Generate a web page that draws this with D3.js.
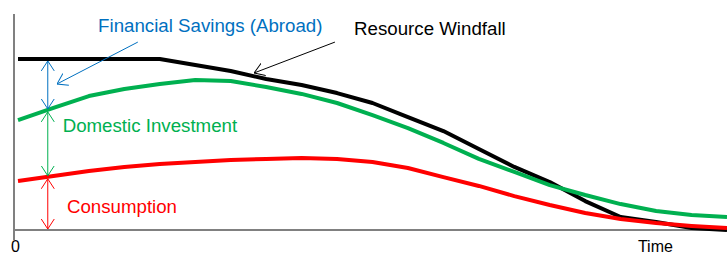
<!DOCTYPE html>
<html>
<head>
<meta charset="utf-8">
<script src="https://cdn.jsdelivr.net/npm/d3@7"></script>
<style>
  body { margin: 0; background: #fff; }
  svg { display: block; font-family: "Liberation Sans", Arial, sans-serif; }
</style>
</head>
<body>
<div id="chart"></div>
<script>
// data (time index 0..100, value in arbitrary units)
const time = [0, 5, 10, 15, 20, 25, 30, 35, 40, 45, 50, 55, 60, 65, 70, 75, 80, 85, 90, 95, 100];
const windfall = [79.2, 79.2, 79.2, 79.2, 79.2, 76.4, 73.6, 69.9, 67.1, 63.4, 58.8, 52.3, 45.8, 37.5, 29.2, 22.2, 13.4, 6.0, 3.7, 0.9, 0];
const investment = [50.9, 56.5, 62.0, 65.3, 67.6, 69.4, 69.0, 66.2, 63.0, 58.8, 53.2, 47.2, 40.3, 32.9, 26.9, 20.8, 16.2, 12.0, 8.8, 6.9, 6.0];
const consumption = [22.7, 25.0, 27.3, 29.2, 30.6, 31.5, 32.4, 32.9, 33.3, 32.9, 31.5, 28.7, 24.5, 20.4, 15.7, 11.6, 7.9, 5.1, 3.2, 1.9, 0.9];

const seriesColors = ["#000000", "#00b050", "#ff0000"];

// annotation positions in data units
const gapTime = 4.2; // where the double arrows stand
const labelNames = ["Financial Savings (Abroad)", "Resource Windfall", "Domestic Investment", "Consumption"];
const labelColors = ["#0070c0", "#000000", "#00b050", "#ff0000"];
const labelPos = [[11.3, 91.6], [47.4, 90.3], [6.3, 45.4], [6.9, 7.7]];
const pointers = [
  {from: [16.9, 87], to: [5.5, 67.6], color: "#0070c0"},
  {from: [44.7, 87], to: [33.3, 72.7], color: "#000000"}
];

const width = 727, height = 256;
const margin = {top: 14, right: 0, bottom: 26, left: 14};

const svg = d3.select("#chart")
  .append("svg")
    .attr("width", width)
    .attr("height", height);

const x = d3.scaleLinear()
  .domain([0, 100])
  .range([18, 727]);

const y = d3.scaleLinear()
  .domain([0, 100])
  .range([height - margin.bottom, margin.top]);

// arrow heads
const defs = svg.append("defs");
["#0070c0", "#000000", "#00b050", "#ff0000"].forEach(function(c) {
  defs.append("marker")
    .attr("id", "arr" + c.slice(1))
    .attr("viewBox", "0 0 10 14")
    .attr("refX", 10)
    .attr("refY", 7)
    .attr("markerWidth", 10)
    .attr("markerHeight", 14)
    .attr("markerUnits", "userSpaceOnUse")
    .attr("orient", "auto-start-reverse")
    .append("path")
      .attr("d", "M0,0.5 L10,7 L0,13.5")
      .attr("fill", "none")
      .attr("stroke", c)
      .attr("stroke-width", 1);
});

// axes
const axisY = y(0);
svg.append("line")
  .attr("x1", margin.left).attr("x2", width)
  .attr("y1", axisY).attr("y2", axisY)
  .attr("stroke", "#808080").attr("stroke-width", 2);
svg.append("line")
  .attr("x1", margin.left).attr("x2", margin.left)
  .attr("y1", margin.top).attr("y2", axisY + 10)
  .attr("stroke", "#808080").attr("stroke-width", 2);

svg.append("text")
  .attr("x", x(0) - 2.5)
  .attr("y", 252)
  .attr("text-anchor", "middle")
  .style("font-size", "16px")
  .text("0");

svg.append("text")
  .attr("x", x(89.9))
  .attr("y", 252)
  .attr("text-anchor", "middle")
  .style("font-size", "16px")
  .text("Time");

// lines
const line = d3.line()
  .x(function(d) { return x(d[0]); })
  .y(function(d) { return y(d[1]); });

const allSeries = [windfall, investment, consumption];
allSeries.forEach(function(s, i) {
  svg.append("path")
    .datum(time.map(function(t, j) { return [t, s[j]]; }))
    .attr("d", line)
    .attr("fill", "none")
    .attr("stroke", seriesColors[i])
    .attr("stroke-width", 4)
    .attr("stroke-linejoin", "round");
});

// value of a series at any time
function valueAt(s, t) {
  return d3.scaleLinear().domain(time).range(s)(t);
}

// double arrows between the lines
const gaps = [
  {top: valueAt(windfall, gapTime), bottom: valueAt(investment, gapTime), color: "#0070c0"},
  {top: valueAt(investment, gapTime), bottom: valueAt(consumption, gapTime), color: "#00b050"},
  {top: valueAt(consumption, gapTime), bottom: 0, color: "#ff0000"}
];
gaps.forEach(function(g) {
  svg.append("line")
    .attr("x1", x(gapTime)).attr("x2", x(gapTime))
    .attr("y1", y(g.top) + 2).attr("y2", y(g.bottom) - 1)
    .attr("stroke", g.color)
    .attr("stroke-width", 1)
    .attr("marker-start", "url(#arr" + g.color.slice(1) + ")")
    .attr("marker-end", "url(#arr" + g.color.slice(1) + ")");
});

// pointer arrows
pointers.forEach(function(p) {
  svg.append("line")
    .attr("x1", x(p.from[0])).attr("y1", y(p.from[1]))
    .attr("x2", x(p.to[0])).attr("y2", y(p.to[1]))
    .attr("stroke", p.color)
    .attr("stroke-width", 1)
    .attr("marker-end", "url(#arr" + p.color.slice(1) + ")");
});

// labels
labelNames.forEach(function(n, i) {
  svg.append("text")
    .attr("x", x(labelPos[i][0]))
    .attr("y", y(labelPos[i][1]))
    .style("font-size", "18.7px")
    .style("fill", labelColors[i])
    .text(n);
});
</script>
</body>
</html>
